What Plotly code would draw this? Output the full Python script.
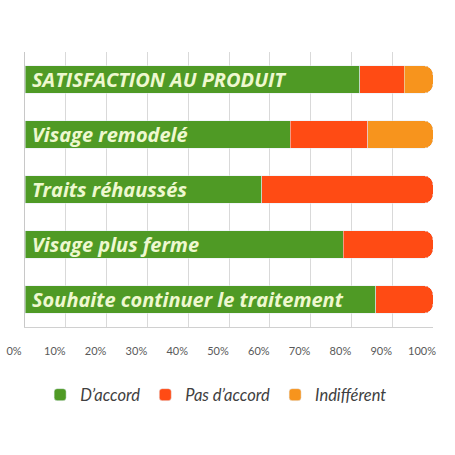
import plotly.graph_objects as go

# Questionnaire results (percent of respondents)
categories = ['SATISFACTION AU PRODUIT', 'Visage remodelé', 'Traits réhaussés',
              'Visage plus ferme', 'Souhaite continuer le traitement']
accord = [82, 65, 58, 78, 86]
pas_accord = [11, 19, 42, 22, 14]
indifferent = [7, 16, 0, 0, 0]
tick_vals = [0, 10, 20, 30, 40, 50, 60, 70, 80, 90, 100]
tick_text = [f'{v}%' for v in tick_vals]

fig = go.Figure()
fig.add_trace(go.Bar(y=categories, x=accord, name='D’accord', orientation='h',
                     marker=dict(color='#4f9a25')))
fig.add_trace(go.Bar(y=categories, x=pas_accord, name='Pas d’accord', orientation='h',
                     marker=dict(color='#ff4b14')))
fig.add_trace(go.Bar(y=categories, x=indifferent, name='Indifférent', orientation='h',
                     marker=dict(color='#f7941d')))

# category names written inside the bars
for c in categories:
    fig.add_annotation(x=0, y=c, xref='x', yref='y', text=c, showarrow=False,
                       xanchor='left', xshift=5,
                       font=dict(family='Open Sans', size=20, color='#eef8cf',
                                 weight='bold', style='italic'))

fig.update_layout(
    width=455, height=455,
    barmode='stack', bargap=0.5, barcornerradius=9,
    plot_bgcolor='white', paper_bgcolor='white',
    margin=dict(l=25, r=22, t=52, b=128),
    showlegend=True,
    legend=dict(orientation='h', xref='container', yref='container',
                x=0.475, xanchor='center', y=0.132, yanchor='middle',
                font=dict(family='Lato', size=16.5, color='#404040', style='italic'),
                itemwidth=30, traceorder='normal'),
    xaxis=dict(range=[0, 100], tickvals=tick_vals, ticktext=tick_text,
               showgrid=True, gridcolor='#d9d9d9', gridwidth=1, zeroline=False,
               showline=True, linecolor='#d0d0d0', ticks='', ticklabelstandoff=14,
               ticklabelshift=-11, automargin=False,
               tickfont=dict(family='Lato', size=11, color='#595959')),
    yaxis=dict(autorange='reversed', showticklabels=False, showgrid=False,
               showline=True, linecolor='#c8c8c8', ticks='', automargin=False),
)

# drop the default page margin so the figure sits at the window corner
fig.write_html('out.html', config={'displayModeBar': False},
               post_script="document.body.style.margin='0';")
